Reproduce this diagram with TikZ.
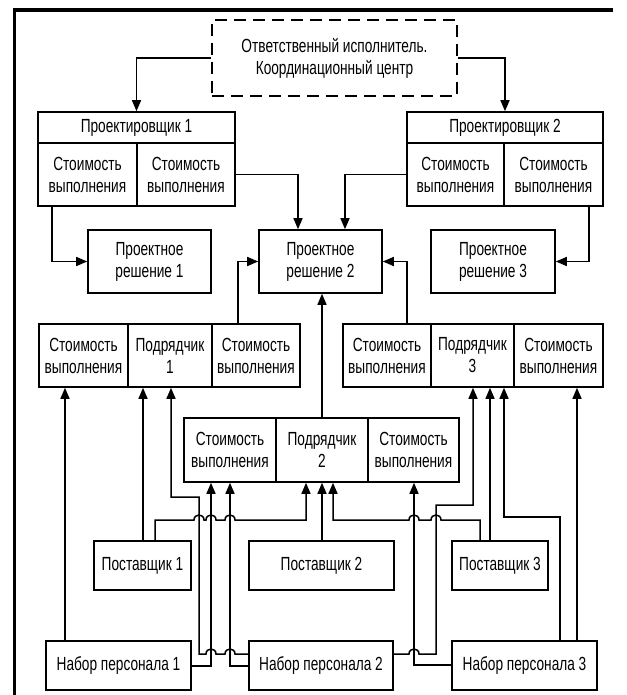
\documentclass[tikz,border=0pt]{standalone}
\usepackage{fontspec}
\setmainfont[FakeStretch=0.72]{Liberation Sans}
\usetikzlibrary{arrows.meta}
\tikzset{
  box/.style={draw, line width=1.6pt, inner sep=0pt, align=center,
    font=\fontsize{19}{22}\selectfont},
  dbox/.style={box, dash pattern=on 12pt off 7pt, line width=1.7pt},
  arr/.style={line width=1.5pt, -{Triangle[length=11pt,width=9pt]}},
  frame/.style={line width=3.2pt}
}
\begin{document}
\begin{tikzpicture}[x=1pt,y=-1pt]
\useasboundingbox (0,0) rectangle (626,695);
\draw[frame] (14.5,695) -- (14.5,10) -- (613,10);

% coordinating center
\node[dbox, minimum width=245pt, minimum height=76pt] (D) at (334.5,58)
  {Ответственный исполнитель.\\Координационный центр};

% designers
\node[box, minimum width=197pt, minimum height=31pt] (P1) at (136.5,127.5) {Проектировщик 1};
\node[box, minimum width=99pt, minimum height=63pt] (P1a) at (87.5,174.5) {Стоимость\\выполнения};
\node[box, minimum width=98pt, minimum height=63pt] (P1b) at (186,174.5) {Стоимость\\выполнения};
\node[box, minimum width=196pt, minimum height=31pt] (P2) at (505,127.5) {Проектировщик 2};
\node[box, minimum width=97pt, minimum height=63pt] (P2a) at (455.5,174.5) {Стоимость\\выполнения};
\node[box, minimum width=99pt, minimum height=63pt] (P2b) at (553.5,174.5) {Стоимость\\выполнения};

% design solutions
\node[box, minimum width=123pt, minimum height=63pt] (PR1) at (149.5,261.5) {Проектное\\решение 1};
\node[box, minimum width=123pt, minimum height=63pt] (PR2) at (320.5,261.5) {Проектное\\решение 2};
\node[box, minimum width=124pt, minimum height=63pt] (PR3) at (493,261.5) {Проектное\\решение 3};

% contractors
\node[box, minimum width=89pt, minimum height=63pt] (C1a) at (83.5,355.5) {Стоимость\\выполнения};
\node[box, minimum width=84pt, minimum height=63pt] (C1b) at (170,355.5) {Подрядчик\\1};
\node[box, minimum width=88pt, minimum height=63pt] (C1c) at (256,355.5) {Стоимость\\выполнения};
\node[box, minimum width=88pt, minimum height=63pt] (C3a) at (387,355.5) {Стоимость\\выполнения};
\node[box, minimum width=83pt, minimum height=63pt] (C3b) at (472.5,355.5) {Подрядчик\\3};
\node[box, minimum width=89pt, minimum height=63pt] (C3c) at (558.5,355.5) {Стоимость\\выполнения};
\node[box, minimum width=92pt, minimum height=64pt] (C2a) at (230,450) {Стоимость\\выполнения};
\node[box, minimum width=92pt, minimum height=64pt] (C2b) at (322,450) {Подрядчик\\2};
\node[box, minimum width=91pt, minimum height=64pt] (C2c) at (413.5,450) {Стоимость\\выполнения};

% suppliers
\node[box, minimum width=97pt, minimum height=49pt] (S1) at (142.5,565.5) {Поставщик 1};
\node[box, minimum width=145pt, minimum height=49pt] (S2) at (321.5,565.5) {Поставщик 2};
\node[box, minimum width=96pt, minimum height=49pt] (S3) at (500,565.5) {Поставщик 3};

% staffing
\node[box, minimum width=145pt, minimum height=49pt] (N1) at (118.5,665.5) {Набор персонала 1};
\node[box, minimum width=144pt, minimum height=49pt] (N2) at (321,665.5) {Набор персонала 2};
\node[box, minimum width=145pt, minimum height=49pt] (N3) at (524.5,665.5) {Набор персонала 3};

% top connectors
\draw[arr] (D.west) -| (P1.north);
\draw[arr] (D.east) -| (P2.north);
\draw[arr] (52,0 |- P1a.south) |- (PR1.west);
\draw[arr] (P1b.east) -| (298,0 |- PR2.north);
\draw[arr] (P2a.west) -| (345,0 |- PR2.north);
\draw[arr] (589,0 |- P2b.south) |- (PR3.east);
\draw[arr] (238,0 |- C1c.north) |- (PR2.west);
\draw[arr] (407,0 |- C3a.north) |- (PR2.east);
\draw[arr] (C2b.north) -- (C2b.north |- PR2.south);

% bottom connectors
\draw[arr] (65,0 |- N1.north) -- (65,0 |- C1a.south);
\draw[arr] (143,0 |- S1.north) -- (143,0 |- C1b.south);
\draw[arr] (N2.west |- 0,654) -- (235,654)
  .. controls (235,647.3) and (225,647.3) .. (225,654) -- (216,654)
  .. controls (216,647.3) and (206,647.3) .. (206,654) -- (199,654)
  -- (199,497) -- (171,497) -- (171,0 |- C1b.south);
\draw[arr] (N1.east |- 0,666) -| (211,0 |- C2a.south);
\draw[arr] (N2.west |- 0,666) -| (230,0 |- C2a.south);
\draw[arr] (155,0 |- S1.north) -- (155,520) -- (194,520)
  .. controls (194,513.3) and (204,513.3) .. (204,520) -- (206,520)
  .. controls (206,513.3) and (216,513.3) .. (216,520) -- (225,520)
  .. controls (225,513.3) and (235,513.3) .. (235,520)
  -- (306,520) -- (306,0 |- C2b.south);
\draw[arr] (322,0 |- S2.north) -- (322,0 |- C2b.south);
\draw[arr] (480,0 |- S3.north) -- (480,520) -- (441,520)
  .. controls (441,513.3) and (431,513.3) .. (431,520) -- (419,520)
  .. controls (419,513.3) and (409,513.3) .. (409,520)
  -- (333,520) -- (333,0 |- C2b.south);
\draw[arr] (N3.west |- 0,665) -| (414,0 |- C2c.south);
\draw[arr] (N2.east |- 0,654) -- (409,654)
  .. controls (409,647.3) and (419,647.3) .. (419,654)
  -- (436,654) -- (436,505) -- (473,505) -- (473,0 |- C3b.south);
\draw[arr] (490,0 |- S3.north) -- (490,0 |- C3b.south);
\draw[arr] (560,0 |- N3.north) -- (560,517) -- (504,517) -- (504,0 |- C3b.south);
\draw[arr] (577,0 |- N3.north) -- (577,0 |- C3c.south);
\end{tikzpicture}
\end{document}
